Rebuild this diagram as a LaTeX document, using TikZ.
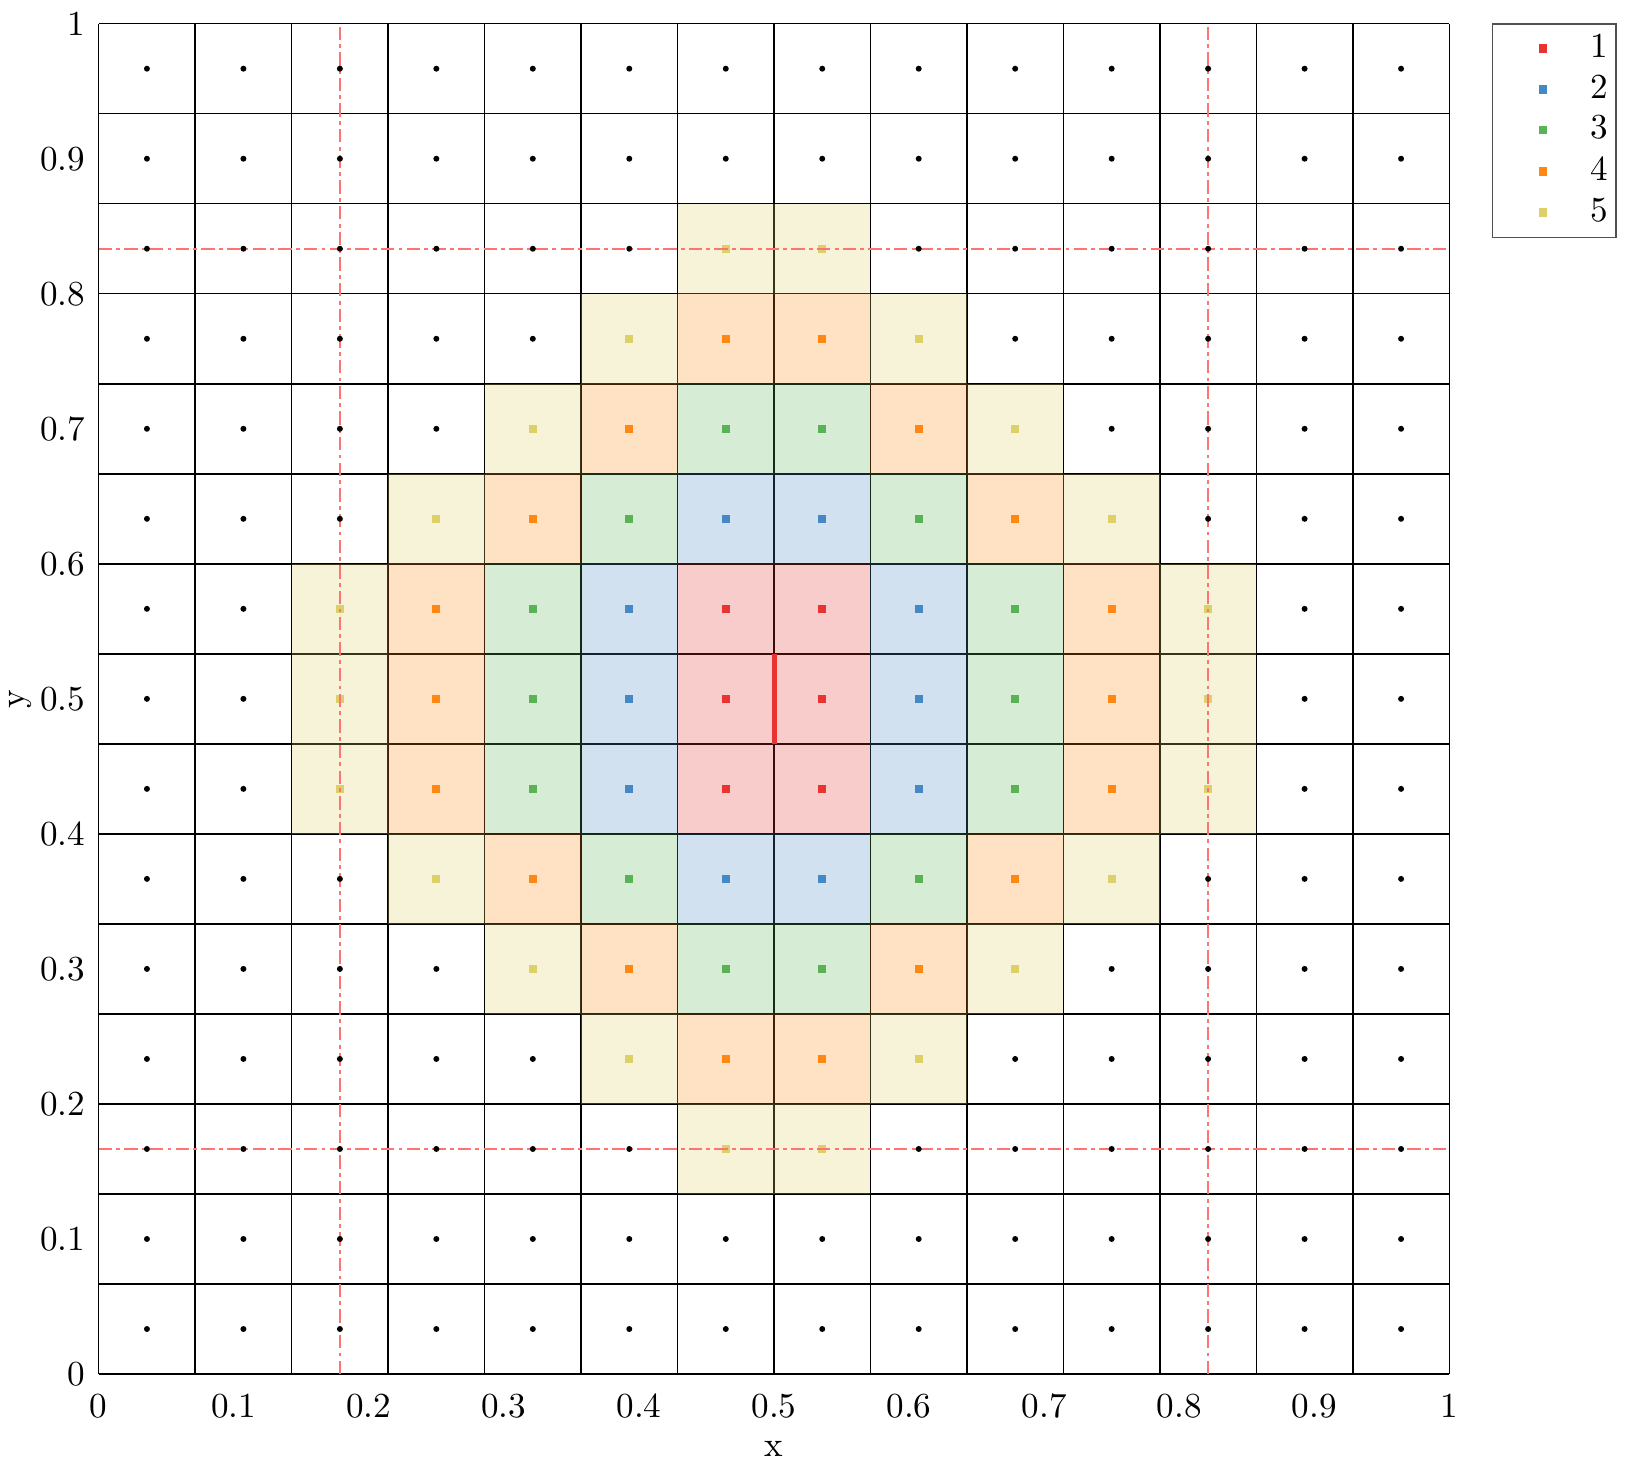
\documentclass[tikz,border=0pt]{standalone}
\definecolor{c0}{RGB}{233,50,50}
\definecolor{c1}{RGB}{70,136,196}
\definecolor{c2}{RGB}{90,178,88}
\definecolor{c3}{RGB}{255,135,20}
\definecolor{c4}{RGB}{222,208,105}
\definecolor{dashred}{RGB}{255,115,115}
\definecolor{legendgray}{RGB}{80,80,80}
\tikzset{
  gridline/.style={line width=0.42pt, black},
  cellfill/.style={fill opacity=0.25},
  mk/.style={rectangle, inner sep=0pt, minimum size=2.3pt},
  blackdot/.style={circle, fill=black, inner sep=0pt, minimum size=1.7pt},
  dashdotline/.style={dashred, line width=0.55pt, dash pattern=on 3.8pt off 1.2pt on 1.1pt off 1.2pt},
  ticklab/.style={inner sep=0pt},
  legendbox/.style={draw=legendgray, line width=0.4pt},
}
\begin{document}
\begin{tikzpicture}
\useasboundingbox (0,0) rectangle (16.26,14.65);
\begin{scope}[shift={(0.987,0.91)}, x=0.96471cm, y=0.90020cm]
  % grid
  \foreach \i in {0,...,14} \draw[gridline] (\i,0) -- (\i,15);
  \foreach \j in {0,...,15} \draw[gridline] (0,\j) -- (14,\j);
  % fills
  \foreach \i in {0,...,13} {
    \foreach \j in {0,...,14} {
      \pgfmathtruncatemacro\d{max(0,6-\i,\i-7)+max(0,6-\j,\j-8)}
      \ifnum\d<5
        \fill[c\d, cellfill] (\i,\j) rectangle ++(1,1);
      \fi
    }
  }
  % coloured markers
  \foreach \i in {0,...,13} {
    \foreach \j in {0,...,14} {
      \pgfmathtruncatemacro\d{max(0,6-\i,\i-7)+max(0,6-\j,\j-8)}
      \ifnum\d<5
        \node[mk, fill=c\d] (m-\i-\j) at (\i+0.5,\j+0.5) {};
      \fi
    }
  }
  % dash-dot lines
  \coordinate (vA0) at (2.5,0);  \coordinate (vA1) at (2.5,15);
  \coordinate (vB0) at (11.5,0); \coordinate (vB1) at (11.5,15);
  \coordinate (hA0) at (0,2.5);  \coordinate (hA1) at (14,2.5);
  \coordinate (hB0) at (0,12.5); \coordinate (hB1) at (14,12.5);
  \draw[dashdotline] (vA0) -- (vA1);
  \draw[dashdotline] (vB0) -- (vB1);
  \draw[dashdotline] (hA0) -- (hA1);
  \draw[dashdotline] (hB0) -- (hB1);
  % black dots
  \foreach \i in {0,...,13} {
    \foreach \j in {0,...,14} {
      \pgfmathtruncatemacro\d{max(0,6-\i,\i-7)+max(0,6-\j,\j-8)}
      \ifnum\d>4
        \node[blackdot] (m-\i-\j) at (\i+0.5,\j+0.5) {};
      \fi
    }
  }
  % red segment
  \coordinate (s0) at (7,7); \coordinate (s1) at (7,8);
  \draw[c0, line width=1.42pt] (s0) -- (s1);
  % ticks labels
  \foreach \k/\t in {0/0,1/0.1,2/0.2,3/0.3,4/0.4,5/0.5,6/0.6,7/0.7,8/0.8,9/0.9,10/1} {
    \node[ticklab, anchor=north, yshift=-1.9mm] (xt\k) at ({1.4*\k},0) {\t};
    \node[ticklab, anchor=east, xshift=-1.27mm] (yt\k) at (0,{1.5*\k}) {\t};
  }
  \node[inner sep=0pt] (xlab) at ([yshift=-7.47mm]7,0) {x};
  \node[inner sep=0pt, rotate=90] (ylab) at ([xshift=-7.84mm]0,7.5) {y};
\end{scope}
% legend
\draw[legendbox] (14.927,12.277) rectangle (16.16,14.41);
\foreach \n/\yy [count=\c from 0] in {1/14.167,2/13.757,3/13.35,4/12.933,5/12.523} {
  \node[mk, fill=c\c, minimum size=2.4pt] (lm\n) at (15.427,\yy) {};
  \node[inner sep=0pt] (lt\n) at (15.99,\yy+0.03) {\n};
}
\end{tikzpicture}
\end{document}
